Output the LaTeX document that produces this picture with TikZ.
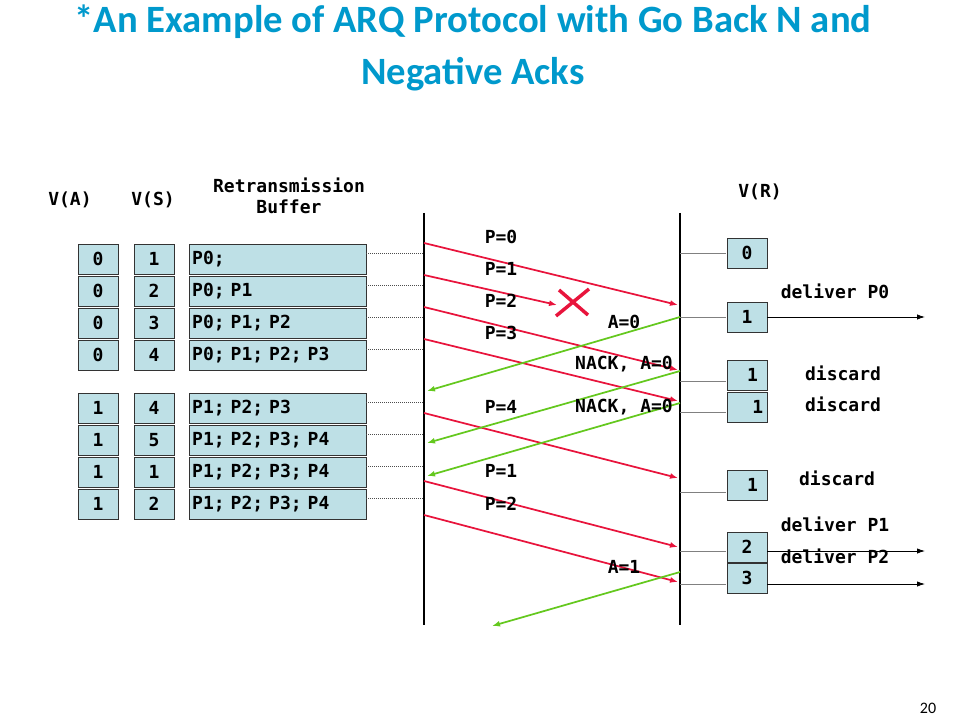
\documentclass[tikz,border=0pt]{standalone}
\usepackage{fontspec}
\setmainfont{Carlito}
\newfontfamily\mono{DejaVu Sans Mono}
\usetikzlibrary{arrows.meta}
\definecolor{ttl}{RGB}{0,153,204}
\definecolor{bx}{RGB}{190,224,230}
\definecolor{rd}{RGB}{232,20,60}
\definecolor{gr}{RGB}{100,200,30}
\begin{document}
\begin{tikzpicture}[x=0.75pt,y=-0.75pt,
  box/.style={draw=black!80,fill=bx,minimum width=30pt,minimum height=22.5pt,inner sep=0pt,font=\mono\bfseries\fontsize{13.5}{13.5}\selectfont},
  buf/.style={box,minimum width=132.75pt,text width=128pt,align=left},
  lbl/.style={font=\mono\bfseries\fontsize{13.5}{16}\selectfont,inner sep=0pt},
  red/.style={draw=rd,line width=1.3pt,-{Latex[length=6pt,width=4.5pt]}},
  grn/.style={draw=gr,line width=1.3pt,-{Latex[length=6pt,width=4.5pt]}},
  dot/.style={draw=black!70,densely dotted,line width=0.5pt},
  gl/.style={draw=black!50,line width=0.6pt},
  dl/.style={draw=black,line width=0.6pt,-{Latex[length=6pt,width=4pt]}}]
\useasboundingbox (0,0) rectangle (960,720);
\node[text=ttl,font=\bfseries\fontsize{29}{39}\selectfont,align=center] (title) at (473,48) {*An Example of ARQ Protocol with Go Back N and\\Negative Acks};
\node[font=\fontsize{12}{12}\selectfont] (pg) at (928,708) {20};
\node[lbl] (ha) at (70,200) {V(A)};
\node[lbl] (hs) at (153,200) {V(S)};
\node[lbl,align=center] (hb) at (289,196) {Retransmission\\Buffer};
\node[lbl] (hr) at (760,192) {V(R)};
% lines
\coordinate (lt) at (424,213); \coordinate (lb) at (424,625);
\coordinate (rt) at (680,213); \coordinate (rb) at (680,625);
\draw[line width=0.8pt] (lt) -- (lb);
\draw[line width=0.8pt] (rt) -- (rb);
% left boxes
\foreach \i/\y/\a/\s/\b in {1/259/0/1/{P0;},2/291/0/2/{P0; P1},3/323/0/3/{P0; P1; P2},4/355/0/4/{P0; P1; P2; P3},5/408/1/4/{P1; P2; P3},6/440/1/5/{P1; P2; P3; P4},7/472/1/1/{P1; P2; P3; P4},8/504/1/2/{P1; P2; P3; P4}}{
  \node[box] (a\i) at (98,\y) {\a};
  \node[box] (s\i) at (154,\y) {\s};
  \node[buf] (b\i) at (277.5,\y) {\b};
  \coordinate (d\i) at (424,\y-6);
  \draw[dot] ([yshift=4.5pt]b\i.east) -- (d\i);
}
% right boxes
\node[box] (r1) at (747,253) {0};
\node[box] (r2) at (747,317) {1};
\node[box] (r3) at (747,375) {\ 1};
\node[box] (r4) at (747,407) {\ \ 1};
\node[box] (r5) at (747,485) {\ 1};
\node[box] (r6) at (747,547) {2};
\node[box] (r7) at (747,578) {3};
\foreach \i/\y in {1/253,2/317,3/381,4/412,5/492,6/551,7/584}{
  \coordinate (g\i) at (680,\y);
  \draw[gl] (g\i) -- (726,\y);
}
\coordinate (o2) at (925,317); \coordinate (o6) at (925,551); \coordinate (o7) at (925,584);
\draw[dl] (r2.east|-g2) -- (o2);
\draw[dl] (r6.east|-g6) -- (o6);
\draw[dl] (r7.east|-g7) -- (o7);
% red arrows
\coordinate (p0s) at (424,243); \coordinate (p0e) at (678,305);
\coordinate (p1s) at (424,275); \coordinate (p1e) at (557,305);
\coordinate (p2s) at (424,307); \coordinate (p2e) at (678,370);
\coordinate (p3s) at (424,339); \coordinate (p3e) at (678,401);
\coordinate (p4s) at (424,413); \coordinate (p4e) at (678,478);
\coordinate (p5s) at (424,481); \coordinate (p5e) at (678,547);
\coordinate (p6s) at (424,515); \coordinate (p6e) at (678,582);
\foreach \p in {0,...,6}{\draw[red] (p\p s) -- (p\p e);}
% X
\coordinate (x1) at (556,316); \coordinate (x2) at (589,289);
\coordinate (x3) at (559,290); \coordinate (x4) at (588,315);
\draw[rd,line width=2.6pt] (x1) -- (x2) (x3) -- (x4);
% green
\coordinate (a0s) at (680,317); \coordinate (a0e) at (427,391);
\coordinate (n1s) at (680,371); \coordinate (n1e) at (427,443);
\coordinate (n2s) at (680,403); \coordinate (n2e) at (427,476);
\coordinate (a1s) at (680,572); \coordinate (a1e) at (492,626);
\foreach \g in {a0,n1,n2,a1}{\draw[grn] (\g s) -- (\g e);}
% labels
\node[lbl] (lp0) at (501,237) {P=0};
\node[lbl] (lp1) at (501,269) {P=1};
\node[lbl] (lp2) at (501,301) {P=2};
\node[lbl] (lp3) at (501,333) {P=3};
\node[lbl] (lp4) at (501,407) {P=4};
\node[lbl] (lp5) at (501,471) {P=1};
\node[lbl] (lp6) at (501,504) {P=2};
\node[lbl] (la0) at (624,322) {A=0};
\node[lbl] (ln1) at (624,364) {NACK, A=0};
\node[lbl] (ln2) at (624,407) {NACK, A=0};
\node[lbl] (la1) at (624,567) {A=1};
\node[lbl] (dp0) at (835,291) {deliver P0};
\node[lbl] (ds1) at (843,373) {discard};
\node[lbl] (ds2) at (843,404) {discard};
\node[lbl] (ds3) at (837,478) {discard};
\node[lbl] (dp1) at (835,524) {deliver P1};
\node[lbl] (dp2) at (835,556) {deliver P2};
\end{tikzpicture}
\end{document}
